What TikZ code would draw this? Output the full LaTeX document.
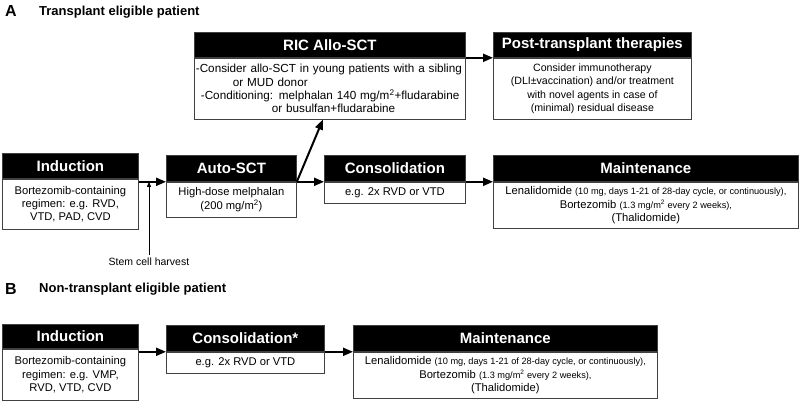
\documentclass[tikz,border=0pt]{standalone}
\usepackage{fontspec}
\setmainfont{Liberation Sans}
\usetikzlibrary{arrows.meta, positioning, calc}

\newcommand{\smtxt}[1]{{\fontsize{9.2}{10}\selectfont #1}}

\begin{document}
\begin{tikzpicture}[
    x=1pt, y=-1pt,
    hdr/.style={draw=black!75, line width=0.8pt, fill=black, text=white, font=\bfseries\fontsize{15}{17}\selectfont, inner sep=0pt, minimum height=26pt, anchor=north west},
    txt/.style={draw=black!75, line width=0.8pt, fill=white, align=center, inner sep=2pt, font=\fontsize{11.2}{13.3}\selectfont},
    panel/.style={font=\bfseries\fontsize{16}{18}\selectfont, anchor=west, inner sep=0pt},
    ptitle/.style={font=\bfseries\fontsize{13}{15}\selectfont, anchor=west, inner sep=0pt},
    arr/.style={-{Triangle[length=10pt, width=8pt]}, line width=2pt},
    harv/.style={-{Triangle[length=5pt, width=4pt]}, line width=0.8pt},
]
\useasboundingbox (0,0) rectangle (800,404);

% Panel A
\node[panel] (labA) at (5,11) {A};
\node[ptitle] (titA) at (39,12) {Transplant eligible patient};

\node[hdr, minimum width=136pt, minimum height=25pt] (indAh) at (2,153) {Induction};
\node[txt, minimum width=136pt, minimum height=50pt, below=0pt of indAh] (indAb) {Bortezomib-containing\\regimen: e.g. RVD,\\VTD, PAD, CVD};

\node[hdr, minimum width=130pt] (autoAh) at (166,155) {Auto-SCT};
\node[txt, minimum width=130pt, minimum height=35pt, below=0pt of autoAh] (autoAb) {High-dose melphalan\\(200 mg/m\textsuperscript{2})};

\node[hdr, minimum width=141pt] (consAh) at (324,155) {Consolidation};
\node[txt, minimum width=141pt, minimum height=21pt, below=0pt of consAh] (consAb) {e.g. 2x RVD or VTD};

\node[hdr, minimum width=305pt] (maintAh) at (493,155) {Maintenance};
\node[txt, minimum width=305pt, minimum height=46pt, below=0pt of maintAh] (maintAb) {Lenalidomide \smtxt{(10 mg, days 1-21 of 28-day cycle, or continuously),}\\Bortezomib \smtxt{(1.3 mg/m\textsuperscript{2} every 2 weeks),}\\(Thalidomide)};

\node[hdr, minimum width=271pt, minimum height=25pt] (ricAh) at (194,32) {RIC Allo-SCT};
\node[txt, text width=268pt, align=left, minimum height=61pt, inner sep=1.5pt, font=\fontsize{11.7}{13.3}\selectfont, below=0pt of ricAh] (ricAb) {-Consider allo-SCT in young patients with a sibling\\\hspace*{37pt}or MUD donor\\\hspace*{5pt}-Conditioning: melphalan 140 mg/m\textsuperscript{2}+fludarabine\\\hspace*{76pt}or busulfan+fludarabine};

\node[hdr, minimum width=198pt, minimum height=25pt] (postAh) at (493,32) {Post-transplant therapies};
\node[txt, minimum width=198pt, minimum height=61pt, font=\fontsize{10.6}{13.3}\selectfont, below=0pt of postAh] (postAb) {Consider immunotherapy\\(DLI±vaccination) and/or treatment\\with novel agents in case of\\(minimal) residual disease};

\node[font=\fontsize{10.5}{12}\selectfont] (stem) at (149,262) {Stem cell harvest};

% Arrows A
\draw[arr] (autoAh.south west -| indAb.east) -- (autoAh.south west);
\draw[arr] (autoAh.south east) -- (consAh.south west);
\draw[arr] (consAh.south east) -- (maintAh.south west);
\draw[arr] (autoAh.south east) -- ($(ricAb.south)+(-7,0)$);
\draw[arr] (ricAh.south east) -- (postAh.south west);
\draw[harv] (stem.north) -- (stem.north |- autoAh.south);

% Panel B
\node[panel] (labB) at (5,289) {B};
\node[ptitle] (titB) at (39,289) {Non-transplant eligible patient};

\node[hdr, minimum width=136pt, minimum height=24pt] (indBh) at (2,324) {Induction};
\node[txt, minimum width=136pt, minimum height=51pt, below=0pt of indBh] (indBb) {Bortezomib-containing\\regimen: e.g. VMP,\\RVD, VTD, CVD};

\node[hdr, minimum width=158pt] (consBh) at (166,325) {Consolidation*};
\node[txt, minimum width=158pt, minimum height=21pt, below=0pt of consBh] (consBb) {e.g. 2x RVD or VTD};

\node[hdr, minimum width=304pt] (maintBh) at (353,325) {Maintenance};
\node[txt, minimum width=304pt, minimum height=46pt, below=0pt of maintBh] (maintBb) {Lenalidomide \smtxt{(10 mg, days 1-21 of 28-day cycle, or continuously),}\\Bortezomib \smtxt{(1.3 mg/m\textsuperscript{2} every 2 weeks),}\\(Thalidomide)};

% Arrows B
\draw[arr] (consBh.south west -| indBb.east) -- (consBh.south west);
\draw[arr] (consBh.south east) -- (maintBh.south west);
\end{tikzpicture}
\end{document}
